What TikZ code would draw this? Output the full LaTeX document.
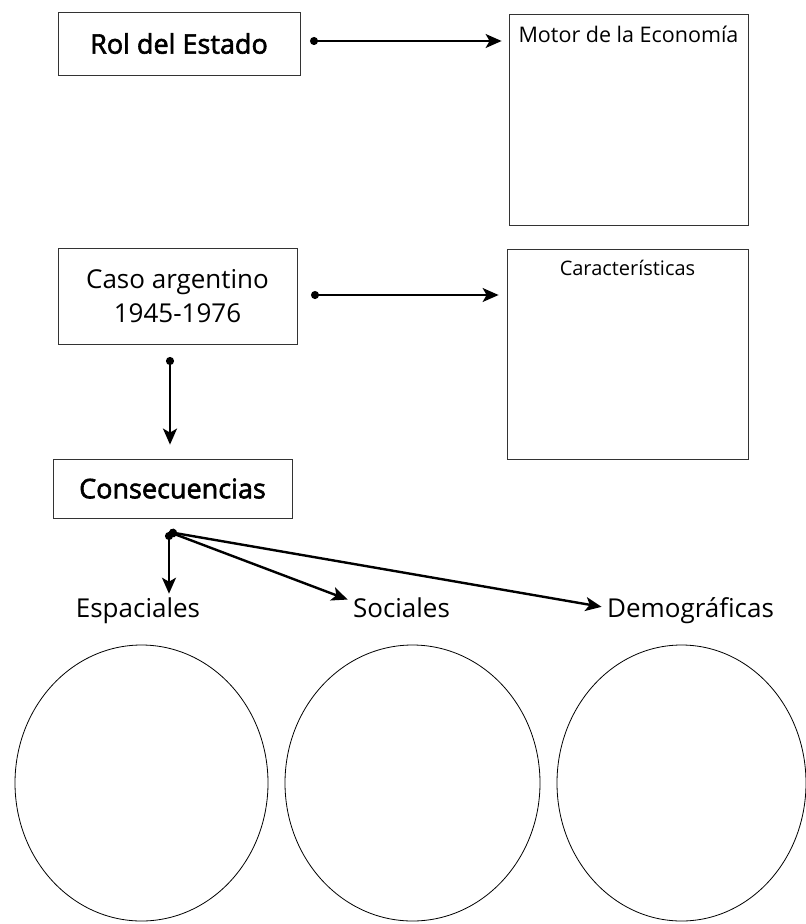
\documentclass[tikz,border=0pt]{standalone}
\usepackage{fontspec}
\setmainfont{Open Sans}
\newfontfamily\titfont[FakeBold=2.2]{Open Sans}
\usetikzlibrary{arrows.meta}

\tikzset{
  caja/.style={draw=black!80,line width=0.8pt,inner sep=0pt},
  titulo/.style={font=\titfont\fontsize{27}{32}\selectfont},
  texto/.style={font=\fontsize{26}{34}\selectfont},
  flecha/.style={{Circle[length=8pt]}-{Stealth[length=16pt,width=14pt,inset=4pt]},line width=1.5pt},
  flechagruesa/.style={flecha,line width=2.4pt}
}

\begin{document}
\begin{tikzpicture}[x=1pt,y=-1pt]
\useasboundingbox (0,0) rectangle (806,924);

  %% cajas de arriba
  \node[caja,titulo,minimum width=242pt,minimum height=63pt] (rol) at (179,43.5) {Rol del Estado};
  \node[caja,minimum width=239pt,minimum height=211pt] (motor) at (628.5,119.5) {};
  \node[anchor=base,font=\fontsize{21.5}{26}\selectfont] (motortxt) at (628.5,42) {Motor de la Economía};

  \node[caja,texto,align=center,minimum width=239pt,minimum height=96pt] (caso) at (177.5,296) {Caso argentino\\1945-1976};
  \node[caja,minimum width=241pt,minimum height=210pt] (carac) at (627.5,354) {};
  \node[anchor=base,font=\fontsize{20}{24}\selectfont] (caractxt) at (627.5,275) {Características};

  \node[caja,titulo,minimum width=239pt,minimum height=59pt] (cons) at (172.5,488.5) {Consecuencias};

  %% consecuencias
  \node[texto,anchor=base] (esp) at (138,617) {Espaciales};
  \node[texto,anchor=base] (soc) at (401.5,617) {Sociales};
  \node[texto,anchor=base] (dem) at (690.5,617) {Demográficas};

  \foreach \x/\r in {141.5/126.5,412.5/127.5,681.5/124.5}
    \draw[line width=0.8pt] (\x,783) ellipse [x radius=\r,y radius=138];

  %% flechas
  \coordinate (d1) at (310,41);
  \coordinate (d2) at (311,295);
  \coordinate (d3) at (170,357);
  \coordinate (d4) at (169,532);

  \draw[flecha,shorten >=7pt] (d1) -- (d1 -| motor.west);
  \draw[flecha,shorten >=8pt] (d2) -- (d2 -| carac.west);
  \draw[flechagruesa,shorten >=14pt] (d3) -- (d3 |- cons.north);
  \draw[flechagruesa] (d4) -- (d4 |- esp.north);
  \draw[flechagruesa,shorten >=2pt] (d4) -- ([yshift=7pt]soc.west);
  \draw[flechagruesa,shorten >=2pt] (d4) -- ([yshift=3pt]dem.west);
\end{tikzpicture}
\end{document}
